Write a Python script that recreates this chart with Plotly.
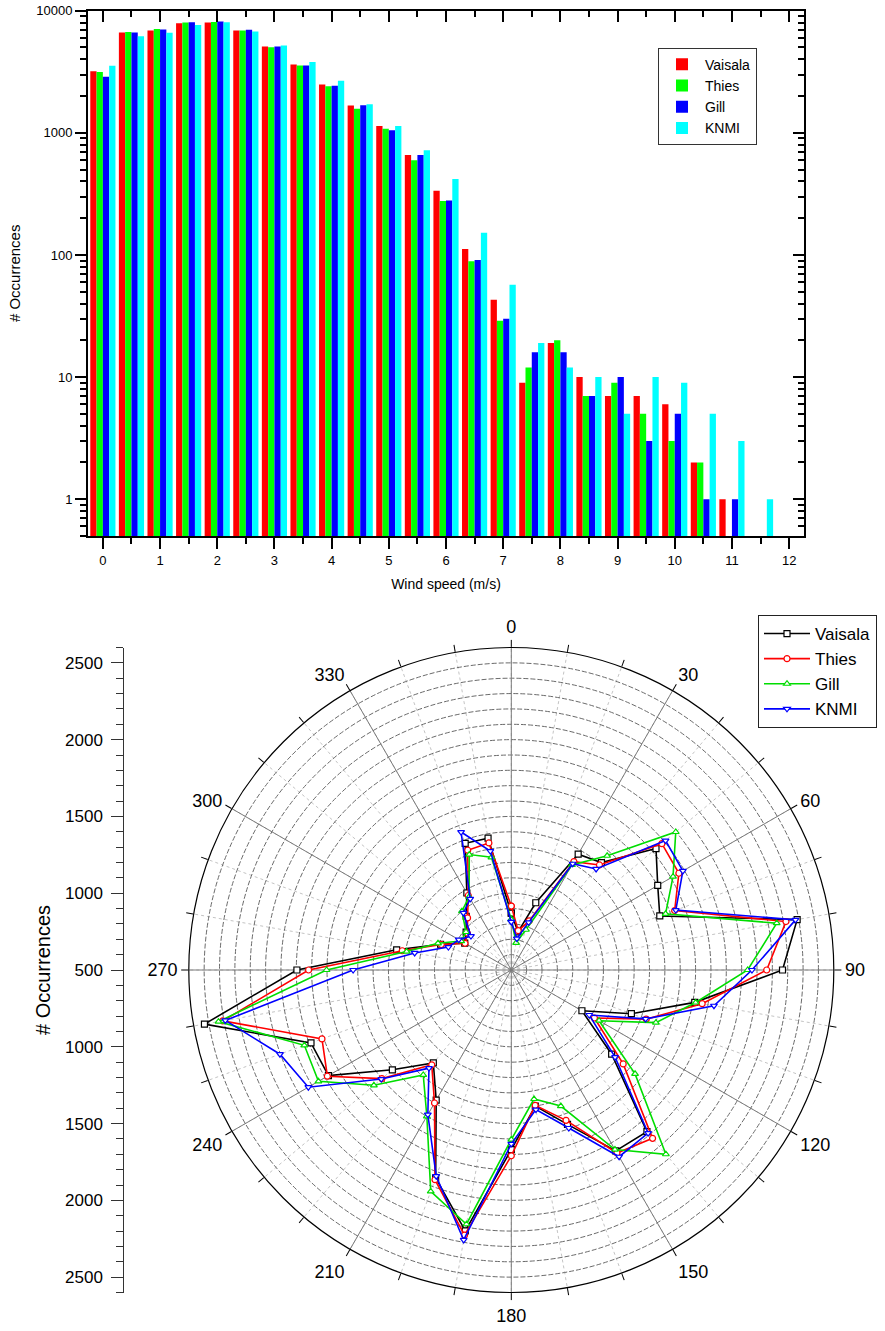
import plotly.graph_objects as go

# ---------------- wind speed histogram (log counts) ----------------
speed_bins = [0, 0.5, 1, 1.5, 2, 2.5, 3, 3.5, 4, 4.5, 5, 5.5,
              6, 6.5, 7, 7.5, 8, 8.5, 9, 9.5, 10, 10.5, 11, 11.5]
vaisala_counts = [3200, 6640, 6890, 7910, 8010, 6890, 5100, 3630, 2490, 1675, 1135, 657,
                  335, 112, 43, 9, 19, 10, 7, 7, 6, 2, 1, None]
thies_counts = [3150, 6700, 7070, 8010, 8100, 6890, 5030, 3560, 2410, 1573, 1079, 597,
                276, 89, 29, 12, 20, 7, 9, 5, 3, 2, None, None]
gill_counts = [2880, 6640, 7030, 8040, 8150, 6980, 5100, 3560, 2430, 1686, 1052, 657,
               279, 91, 30, 16, 16, 7, 10, 3, 5, 1, 1, None]
knmi_counts = [3540, 6190, 6590, 7620, 8040, 6760, 5200, 3800, 2670, 1718, 1135, 721,
               418, 152, 57, 19, 12, 10, 5, 10, 9, 5, 3, 1]

speed_ticks = list(range(0, 13))
count_ticks = [1, 10, 100, 1000, 10000]
count_tick_text = ["1", "10", "100", "1000", "10000"]

# ---------------- wind direction rose ----------------
directions = list(range(0, 360, 10))
vaisala_dir = [870, 752, 966, 1371, 1413, 1730, 1601, 1529, 2390, 2266, 1713, 1332,
               1031, 1353, 1874, 1860, 1570, 1400, 1669, 2225, 1940, 1478, 1290, 1511,
               1875, 1888, 2529, 1896, 1258, 990, 850, 884, 957, 1079, 1378, 1372]
thies_dir = [916, 760, 840, 1315, 1393, 1780, 1760, 1632, 2316, 2163, 1762, 1435,
             1125, 1451, 1931, 1876, 1542, 1395, 1710, 2253, 1953, 1500, 1306, 1600,
             1883, 1812, 2408, 1820, 1221, 985, 848, 873, 943, 1060, 1330, 1340]
gill_dir = [830, 680, 779, 1290, 1471, 1898, 1716, 1569, 2255, 2039, 1719, 1502,
            1160, 1552, 2066, 1850, 1443, 1353, 1604, 2181, 2034, 1600, 1392, 1668,
            1950, 1934, 2436, 1703, 1192, 1008, 877, 885, 1000, 1050, 1300, 1245]
knmi_dir = [814, 708, 830, 1299, 1359, 1811, 1790, 1640, 2379, 2067, 1840, 1431,
            1086, 1382, 1886, 1904, 1595, 1423, 1632, 2285, 1929, 1587, 1334, 1605,
            2026, 2103, 2391, 1530, 1139, 936, 895, 843, 985, 1035, 1456, 1286]

r_min, r_max = 500, 2600
angle_labels = {a: str(a) for a in range(0, 360, 30)}

FONT = "Liberation Sans, Arial, sans-serif"

fig = go.Figure()

bar_series = [("Vaisala", vaisala_counts, "#ff0000"),
              ("Thies", thies_counts, "#00ff00"),
              ("Gill", gill_counts, "#0000ff"),
              ("KNMI", knmi_counts, "#00ffff")]
for name, vals, col in bar_series:
    fig.add_trace(go.Bar(x=speed_bins, y=vals, name=name, marker_color=col,
                         marker_line_width=0, legend="legend"))

# overlay axes carrying the inward ticks on top and right of the frame
fig.add_trace(go.Scatter(x=[], y=[], xaxis="x2", yaxis="y2", showlegend=False,
                         hoverinfo="skip"))

# darker spokes every 30 degrees
spoke_r, spoke_t = [], []
for a in range(0, 180, 30):
    spoke_r += [r_max, r_max, None]
    spoke_t += [a, a + 180, None]
fig.add_trace(go.Scatterpolar(r=spoke_r, theta=spoke_t, mode="lines",
                              line=dict(color="#7a7a7a", width=1),
                              showlegend=False, hoverinfo="skip"))

rose_series = [("Vaisala", vaisala_dir, "#000000", "square"),
               ("Thies", thies_dir, "#ff0000", "circle"),
               ("Gill", gill_dir, "#00dd00", "triangle-up"),
               ("KNMI", knmi_dir, "#0000ff", "triangle-down")]
for name, vals, col, sym in rose_series:
    fig.add_trace(go.Scatterpolar(
        r=vals + vals[:1], theta=directions + directions[:1], name=name,
        mode="lines+markers", line=dict(color=col, width=1.6),
        marker=dict(symbol=sym, size=6, color="white", line=dict(color=col, width=1.2)),
        legend="legend2"))

# stand-alone radial scale at the left of the rose
fig.add_trace(go.Scatter(x=[], y=[], xaxis="x3", yaxis="y3", showlegend=False,
                         hoverinfo="skip"))

minor_log = [k * 10 ** n for n in range(-1, 4) for k in range(2, 10)]
minor_log = [v for v in minor_log if 0.5 <= v <= 10000]

top_dom_y = [1 - 536 / 1331, 1 - 10.7 / 1331]
top_dom_x = [88 / 885, 804 / 885]
x_range = [-0.26, 12.26]
y_range = [-0.30103, 4]

axis_common = dict(showgrid=False, zeroline=False, linecolor="black", linewidth=2,
                   tickcolor="black", tickwidth=2, showline=True, automargin=False)

rad_vals = list(range(-2000, 2001, 500))
rad_text = [str(abs(v) + r_min) for v in rad_vals]

fig.update_layout(
    width=885, height=1331,
    margin=dict(l=0, r=0, t=0, b=0),
    paper_bgcolor="white", plot_bgcolor="white",
    font=dict(family=FONT, color="black"),
    barmode="group", bargap=0.12, bargroupgap=0,
    xaxis=dict(domain=top_dom_x, anchor="y", range=x_range, tickvals=speed_ticks,
               ticks="outside", ticklen=11, tickfont=dict(size=13),
               minor=dict(dtick=0.5, tick0=0, ticks="outside", ticklen=6,
                          tickcolor="black", tickwidth=2),
               title=dict(text="Wind speed (m/s)", font=dict(size=14), standoff=13),
               **axis_common),
    yaxis=dict(domain=top_dom_y, anchor="x", type="log", range=y_range,
               tickmode="array", tickvals=count_ticks, ticktext=count_tick_text,
               ticks="outside", ticklen=11, tickfont=dict(size=13),
               minor=dict(tickmode="array", tickvals=minor_log, ticks="outside",
                          ticklen=6, tickcolor="black", tickwidth=2),
               title=dict(text="# Occurrences", font=dict(size=15), standoff=12),
               **axis_common),
    xaxis2=dict(overlaying="x", anchor="y2", side="top", range=x_range,
                tickvals=speed_ticks, ticks="inside", ticklen=11, showticklabels=False,
                minor=dict(dtick=0.5, tick0=0, ticks="inside", ticklen=6,
                           tickcolor="black", tickwidth=2),
                **axis_common),
    yaxis2=dict(overlaying="y", anchor="x2", side="right", type="log", range=y_range,
                tickmode="array", tickvals=count_ticks, ticks="inside", ticklen=11,
                showticklabels=False,
                minor=dict(tickmode="array", tickvals=minor_log, ticks="inside",
                           ticklen=6, tickcolor="black", tickwidth=2),
                **axis_common),
    legend=dict(x=658 / 885, y=1 - 47.7 / 1331, xanchor="left", yanchor="top",
                bgcolor="white", bordercolor="#333333", borderwidth=1,
                font=dict(size=14), tracegroupgap=0, itemwidth=36),
    legend2=dict(x=758 / 885, y=1 - 615 / 1331, xanchor="left", yanchor="top",
                 bgcolor="white", bordercolor="#222222", borderwidth=1,
                 font=dict(size=17), tracegroupgap=0, itemwidth=46),
    polar=dict(
        domain=dict(x=[188.8 / 885, 833.8 / 885], y=[1 - 1292.5 / 1331, 1 - 647.5 / 1331]),
        bgcolor="white",
        radialaxis=dict(range=[r_min, r_max], tick0=0, dtick=100, showticklabels=False,
                        ticks="", showline=False, gridcolor="#6a6a6a", gridwidth=1,
                        griddash="5px,2px"),
        angularaxis=dict(rotation=90, direction="clockwise", tickmode="array",
                         tickvals=directions,
                         ticktext=[angle_labels.get(a, "") for a in directions],
                         ticks="outside", ticklen=7, tickcolor="black",
                         showline=True, linecolor="black", linewidth=1.2,
                         gridcolor="#c4c4c4", griddash="dot",
                         tickfont=dict(size=18)),
    ),
    xaxis3=dict(domain=[0.142, 0.2], anchor="y3", visible=False, range=[0, 1]),
    yaxis3=dict(domain=[1 - 1292.5 / 1331, 1 - 647.5 / 1331], anchor="free",
                position=123.3 / 885, range=[-2100, 2100], tickmode="array",
                tickvals=rad_vals, ticktext=rad_text, ticks="outside", ticklen=12,
                tickcolor="#333333", tickwidth=1, showline=True, linecolor="#333333",
                linewidth=1, showgrid=False, zeroline=False, automargin=False,
                tickfont=dict(size=17), ticklabelstandoff=5,
                minor=dict(dtick=100, tick0=0, ticks="outside", ticklen=7,
                           tickcolor="#333333", tickwidth=1),
                title=dict(text="# Occurrences", font=dict(size=20), standoff=8)),
)

fig.write_html("out.html")
